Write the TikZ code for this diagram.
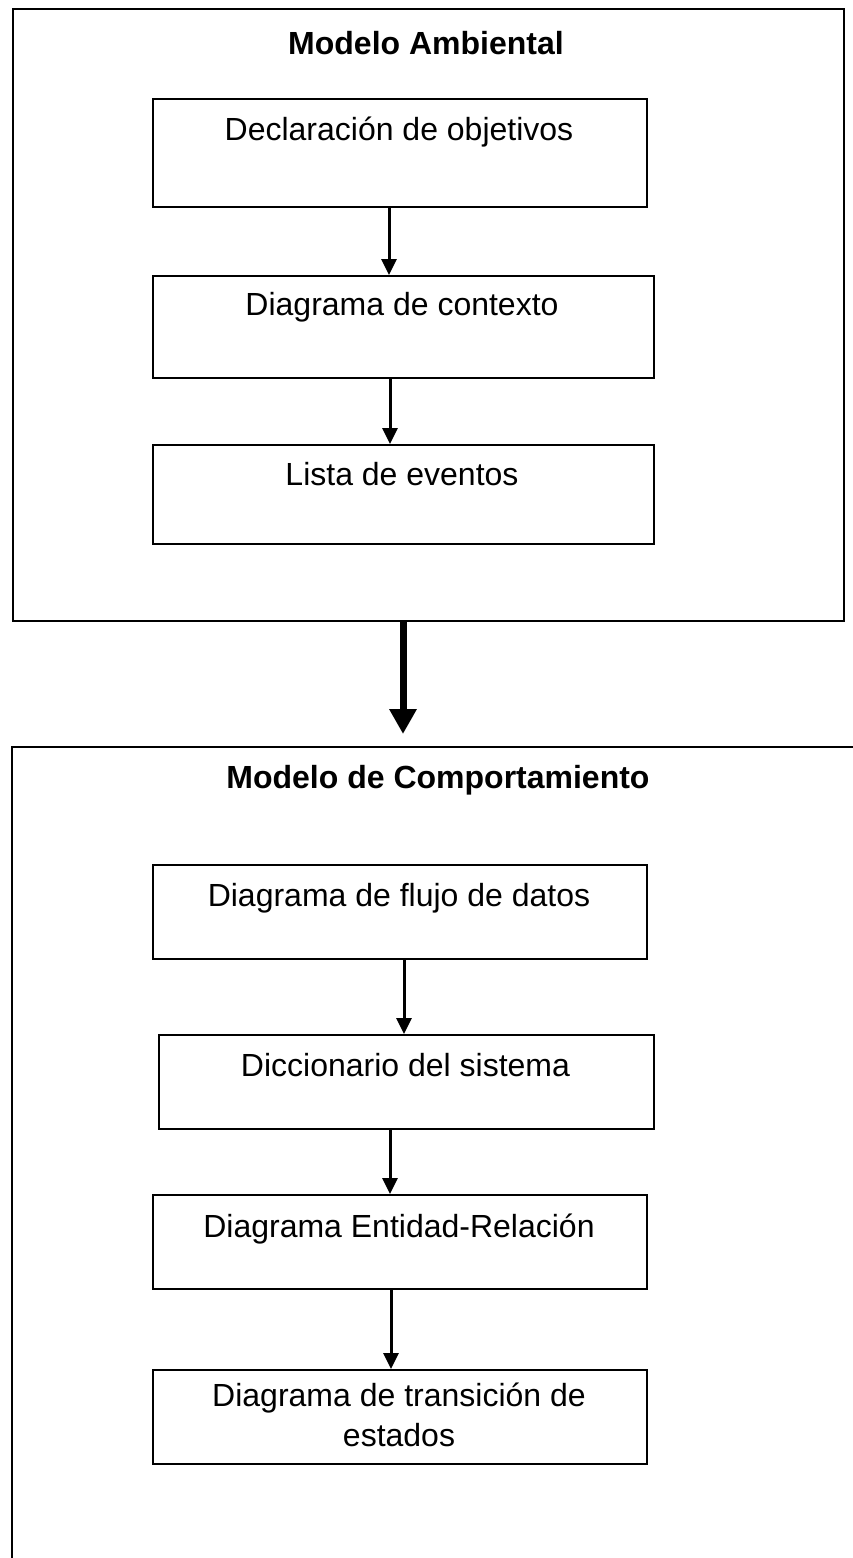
\documentclass[tikz,border=0pt]{standalone}
\usepackage{fontspec}
\setmainfont{Liberation Sans}
\usetikzlibrary{arrows.meta}
\begin{document}
\begin{tikzpicture}[x=1pt,y=-1pt,
  frame/.style={draw=black,line width=2pt},
  boxnode/.style={draw=black,line width=2pt,rectangle,inner sep=0pt,anchor=north west},
  txt/.style={anchor=base,inner sep=0pt,font=\fontsize{32pt}{40pt}\selectfont,align=center},
  ttl/.style={anchor=base,inner sep=0pt,font=\fontsize{32pt}{40pt}\selectfont\bfseries},
  arr/.style={line width=3pt,-{Triangle[length=16pt,width=15pt]}},
  bigarr/.style={line width=7pt,-{Triangle[length=25pt,width=26pt]}}
]
\useasboundingbox (0,0) rectangle (853,1558);
\fill[white] (0,0) rectangle (853,1558);

% upper frame
\node[boxnode,minimum width=831pt,minimum height=612pt] (amb) at (12,8) {};
\node[ttl] (tamb) at (426,54) {Modelo Ambiental};

\node[boxnode,minimum width=494pt,minimum height=108pt] (b1) at (152,98) {};
\node[txt] (t1) at (399,140) {Declaración de objetivos};
\node[boxnode,minimum width=501pt,minimum height=102pt] (b2) at (152,275) {};
\node[txt] (t2) at (402,315) {Diagrama de contexto};
\node[boxnode,minimum width=501pt,minimum height=99pt] (b3) at (152,444) {};
\node[txt] (t3) at (402,485) {Lista de eventos};

\draw[arr] ([xshift=-11pt]b1.south) -- ([xshift=-14.5pt]b2.north);
\draw[arr] ([xshift=-13.5pt]b2.south) -- ([xshift=-13.5pt]b3.north);

% big arrow
\coordinate (lowtop) at (403,747);
\draw[bigarr] (amb.south -| lowtop) -- ([yshift=13pt]lowtop);

% lower frame (open)
\draw[frame] (860,747) -- (lowtop) -- (12,747) -- (12,1570);
\node[ttl] (tcomp) at (438,788) {Modelo de Comportamiento};

\node[boxnode,minimum width=494pt,minimum height=94pt] (b4) at (152,864) {};
\node[txt] (t4) at (399,906) {Diagrama de flujo de datos};
\node[boxnode,minimum width=495pt,minimum height=94pt] (b5) at (158,1034) {};
\node[txt] (t5) at (405.5,1076) {Diccionario del sistema};
\node[boxnode,minimum width=494pt,minimum height=94pt] (b6) at (152,1194) {};
\node[txt] (t6) at (399,1237) {Diagrama Entidad-Relación};
\node[boxnode,minimum width=494pt,minimum height=94pt] (b7) at (152,1369) {};
\node[txt,anchor=north] (t7) at (399,1383) {Diagrama de transición de\\estados};

\draw[arr] ([xshift=4pt]b4.south) -- ([xshift=-2.5pt]b5.north);
\draw[arr] ([xshift=-16.5pt]b5.south) -- ([xshift=-10pt]b6.north);
\draw[arr] ([xshift=-9pt]b6.south) -- ([xshift=-9pt]b7.north);
\end{tikzpicture}
\end{document}
